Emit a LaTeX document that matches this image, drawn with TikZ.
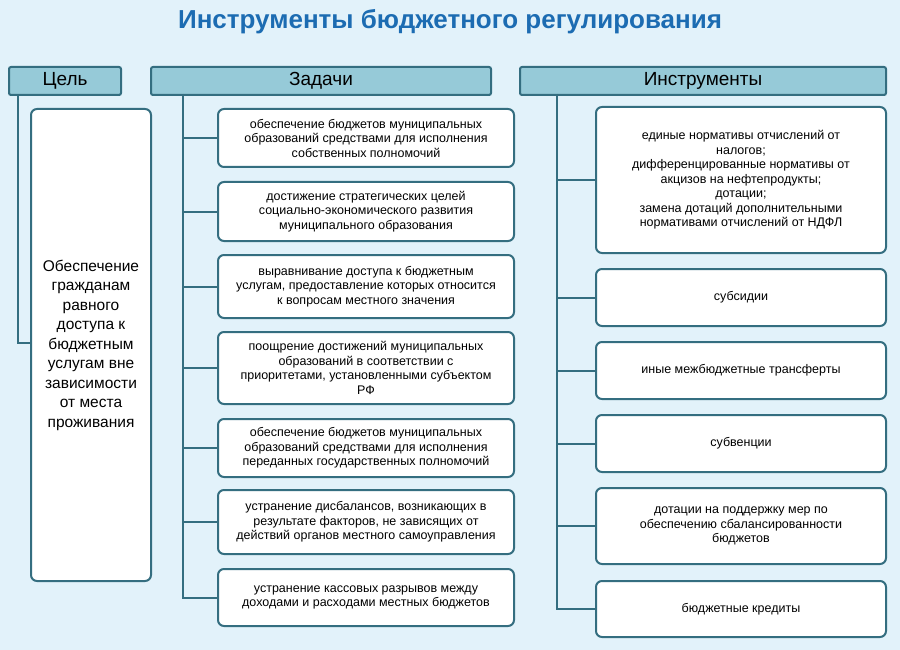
\documentclass[tikz,border=0pt]{standalone}
\usepackage{fontspec}
\setmainfont{Liberation Sans}
\definecolor{edge}{RGB}{52,110,128}
\definecolor{head}{RGB}{150,202,216}
\definecolor{titleblue}{RGB}{28,108,178}
\definecolor{bgblue}{RGB}{226,242,250}

\begin{document}
\begin{tikzpicture}[x=1pt,
y=-1pt,
every node/.style={
rectangle,
align = center,
anchor=north west,
inner sep=1pt,
},
box/.style={
draw=edge,
line width=2pt,
rounded corners=6pt,
fill=white,
font=\fontsize{12.5}{14.5}\selectfont,
},
headbox/.style={
draw=edge,
line width=2pt,
rounded corners=2pt,
fill=head,
minimum height=28pt,
font=\fontsize{19}{21}\selectfont,
},
link/.style={
draw=edge,
line width=2pt,
}]

%background
\fill[bgblue] (0,0) rectangle (900,650);
\useasboundingbox (0,0) rectangle (900,650);
\node[anchor=center,text=titleblue,font=\fontsize{26}{30}\selectfont\bfseries](title)at(450,22){Инструменты бюджетного регулирования};

%headers
\node[headbox,minimum width=112pt](goal)at(8,66){Цель};
\node[headbox,minimum width=340pt](tasks)at(150,66){Задачи};
\node[headbox,minimum width=366pt](tools)at(519,66){Инструменты};

%goal
\node[box,minimum width=120pt,minimum height=472pt,font=\fontsize{15.5}{19.5}\selectfont](g1)at(30,108){Обеспечение\\гражданам\\равного\\доступа к\\бюджетным\\услугам вне\\зависимости\\от места\\проживания};
\coordinate (gturn) at (18,343);
\draw[link] (gturn|-goal.south) -- (gturn) -- (g1.west|-gturn);

%tasks
\node[box,minimum width=296pt,minimum height=58pt](t1)at(217,108){обеспечение бюджетов муниципальных\\образований средствами для исполнения\\собственных полномочий};
\node[box,minimum width=296pt,minimum height=59pt](t2)at(217,181){достижение стратегических целей\\социально-экономического развития\\муниципального образования};
\node[box,minimum width=296pt,minimum height=63pt](t3)at(217,254){выравнивание доступа к бюджетным\\услугам, предоставление которых относится\\к вопросам местного значения};
\node[box,minimum width=296pt,minimum height=72pt](t4)at(217,331){поощрение достижений муниципальных\\образований в соответствии с\\приоритетами, установленными субъектом\\РФ};
\node[box,minimum width=296pt,minimum height=58pt](t5)at(217,418){обеспечение бюджетов муниципальных\\образований средствами для исполнения\\переданных государственных полномочий};
\node[box,minimum width=296pt,minimum height=64pt](t6)at(217,489){устранение дисбалансов, возникающих в\\результате факторов, не зависящих от\\действий органов местного самоуправления};
\node[box,minimum width=296pt,minimum height=57pt](t7)at(217,568){устранение кассовых разрывов между\\доходами и расходами местных бюджетов};
\coordinate (tline) at (183,94);
\draw[link] (tline) -- (tline|-t7.west) -- (t7.west);
\foreach \t in {t1,t2,t3,t4,t5,t6}
  \draw[link] (tline|-\t.west) -- (\t.west);

%tools
\node[box,minimum width=290pt,minimum height=146pt](i1)at(595,106){единые нормативы отчислений от\\налогов;\\дифференцированные нормативы от\\акцизов на нефтепродукты;\\дотации;\\замена дотаций дополнительными\\нормативами отчислений от НДФЛ};
\node[box,minimum width=290pt,minimum height=57pt](i2)at(595,268){субсидии};
\node[box,minimum width=290pt,minimum height=57pt](i3)at(595,341){иные межбюджетные трансферты};
\node[box,minimum width=290pt,minimum height=57pt](i4)at(595,414){субвенции};
\node[box,minimum width=290pt,minimum height=76pt](i5)at(595,487){дотации на поддержку мер по\\обеспечению сбалансированности\\бюджетов};
\node[box,minimum width=290pt,minimum height=56pt](i6)at(595,580){бюджетные кредиты};
\coordinate (iline) at (557,94);
\draw[link] (iline) -- (iline|-i6.west) -- (i6.west);
\foreach \i in {i1,i2,i3,i4,i5}
  \draw[link] (iline|-\i.west) -- (\i.west);
\end{tikzpicture}
\end{document}
